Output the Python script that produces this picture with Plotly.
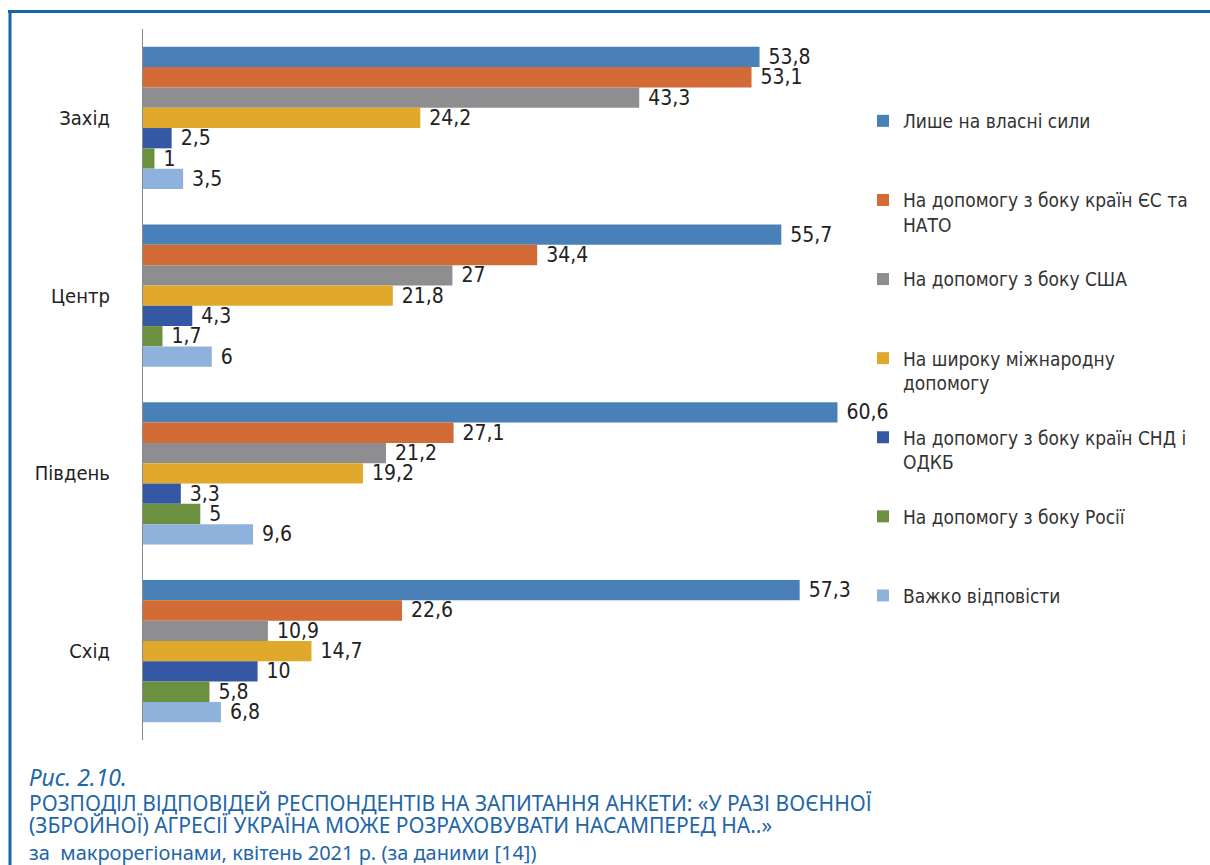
import plotly.graph_objects as go

# ---------------- data ----------------
regions = ["Захід", "Центр", "Південь", "Схід"]
series_names = [
    "Лише на власні сили",
    "На допомогу з боку країн ЄС та<br>НАТО",
    "На допомогу з боку США",
    "На широку міжнародну<br>допомогу",
    "На допомогу з боку країн СНД і<br>ОДКБ",
    "На допомогу з боку Росії",
    "Важко відповісти",
]
own_forces = [53.8, 55.7, 60.6, 57.3]
eu_nato = [53.1, 34.4, 27.1, 22.6]
usa = [43.3, 27.0, 21.2, 10.9]
intl = [24.2, 21.8, 19.2, 14.7]
cis_csto = [2.5, 4.3, 3.3, 10.0]
russia = [1.0, 1.7, 5.0, 5.8]
hard_to_say = [3.5, 6.0, 9.6, 6.8]
series_values = [own_forces, eu_nato, usa, intl, cis_csto, russia, hard_to_say]

caption_fig = "Рис. 2.10."
caption_title_1 = "РОЗПОДІЛ ВІДПОВІДЕЙ РЕСПОНДЕНТІВ НА ЗАПИТАННЯ АНКЕТИ: «У РАЗІ ВОЄННОЇ"
caption_title_2 = "(ЗБРОЙНОЇ) АГРЕСІЇ УКРАЇНА МОЖЕ РОЗРАХОВУВАТИ НАСАМПЕРЕД НА..»"
caption_sub = "за  макрорегіонами, квітень 2021 р. (за даними [14])"

# ---------------- style ----------------
colors = ["#4a80b8", "#d26b36", "#8e8e90", "#e1a92c", "#3558a5", "#6b9140", "#8fb2dc"]
NARROW = "Liberation Sans Narrow, Arial Narrow, DejaVu Sans Condensed, sans-serif"
CAP_FONT = "Noto Sans, DejaVu Sans, sans-serif"
BLUE = "#1f66a8"
FRAME = "#1a63a5"

W, H = 1210, 865
L, R, T, B = 143, 340, 29, 125
PW, PH = W - L - R, H - T - B
X_MAX = PW / 11.46


def px_x(px):
    return (px - L) / PW


def px_y(py):
    return (H - B - py) / PH


def fmt(v):
    return ("%g" % v).replace(".", ",")


fig = go.Figure()
for name, vals, col in zip(series_names, series_values, colors):
    legend_name = name if "<br>" in name else name + "<br>\u00a0"
    fig.add_trace(go.Bar(
        y=regions, x=vals, orientation="h", name=legend_name,
        legendgroup=name,
        marker=dict(color=col, line=dict(width=0)),
        text=["\u00a0" + fmt(v) for v in vals],
        textposition="outside", cliponaxis=False, constraintext="none",
        textfont=dict(family=NARROW, size=21, color="#222222"),
        hoverinfo="skip",
    ))

fig.update_layout(
    width=W, height=H,
    margin=dict(l=L, r=R, t=T, b=B, autoexpand=False),
    paper_bgcolor="white", plot_bgcolor="white",
    barmode="group", bargap=0.2, bargroupgap=0.0,
    showlegend=True,
    legend=dict(
        x=px_x(863), xanchor="left", y=px_y(102), yanchor="top",
        traceorder="grouped", tracegroupgap=26.7, valign="top",
        font=dict(family=NARROW, size=19, color="#333333"),
        bgcolor="rgba(0,0,0,0)",
    ),
    xaxis=dict(range=[0, X_MAX], visible=False, fixedrange=True),
    yaxis=dict(
        autorange="reversed", showline=True, linecolor="#8a8a8a", linewidth=1.3,
        showgrid=False, zeroline=False, ticks="", ticklabelstandoff=28,
        tickfont=dict(family=NARROW, size=20, color="#222222"), fixedrange=True,
    ),
    shapes=[
        dict(type="line", xref="paper", yref="paper",
             x0=px_x(8), x1=px_x(1215), y0=px_y(11.5), y1=px_y(11.5),
             line=dict(color=FRAME, width=3)),
        dict(type="line", xref="paper", yref="paper",
             x0=px_x(10), x1=px_x(10), y0=px_y(10), y1=px_y(870),
             line=dict(color=FRAME, width=3)),
    ],
    annotations=[
        dict(xref="paper", yref="paper", x=px_x(27), y=px_y(777), xanchor="left", yanchor="middle",
             text="<i>" + caption_fig + "</i>", showarrow=False,
             font=dict(family=CAP_FONT, size=23, color=BLUE)),
        dict(xref="paper", yref="paper", x=px_x(27), y=px_y(803), xanchor="left", yanchor="middle",
             text=caption_title_1, showarrow=False,
             font=dict(family=CAP_FONT, size=21, color=BLUE)),
        dict(xref="paper", yref="paper", x=px_x(27), y=px_y(825), xanchor="left", yanchor="middle",
             text=caption_title_2, showarrow=False,
             font=dict(family=CAP_FONT, size=21, color=BLUE)),
        dict(xref="paper", yref="paper", x=px_x(27), y=px_y(852), xanchor="left", yanchor="middle",
             text=caption_sub, showarrow=False,
             font=dict(family=CAP_FONT, size=20, color=BLUE)),
    ],
)

fig.write_html(
    "out.html",
    config={"displayModeBar": False, "staticPlot": False},
    post_script="document.body.style.margin='0';",
)
